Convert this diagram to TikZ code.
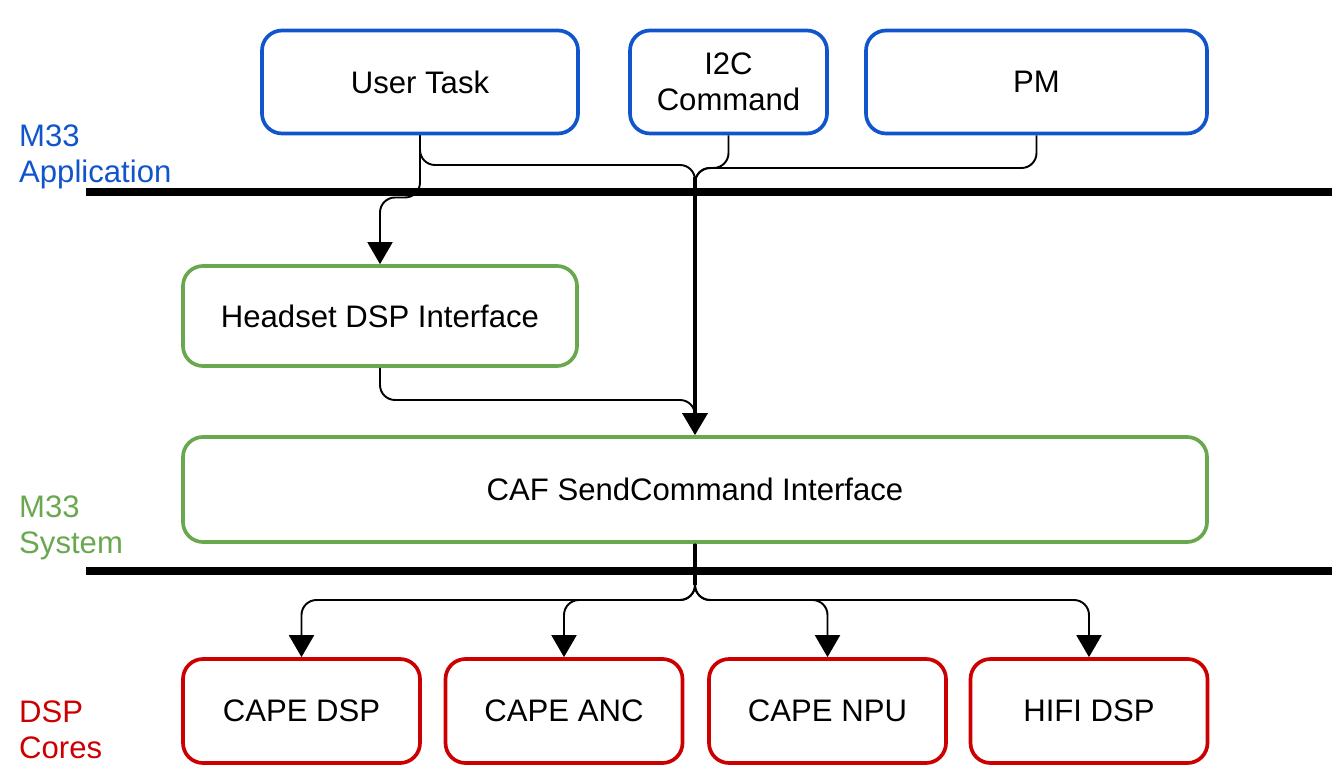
\documentclass[tikz,border=0pt]{standalone}
\usepackage{fontspec}
\setmainfont{Liberation Sans}
\usepackage{tikz}
\usetikzlibrary{arrows.meta}

\definecolor{appblue}{HTML}{1155CC}
\definecolor{sysgreen}{HTML}{6AA84F}
\definecolor{corered}{HTML}{CC0000}

\tikzset{
  box/.style={draw, line width=2.1pt, rounded corners=0.4cm, align=center,
    font=\fontsize{17.7}{20.5}\selectfont},
  appbox/.style={box, draw=appblue},
  sysbox/.style={box, draw=sysgreen},
  corebox/.style={box, draw=corered, minimum width=4.74cm, minimum height=2.08cm},
  link/.style={line width=1.1pt, rounded corners=0.3cm},
  mainlink/.style={line width=2pt},
  tip/.style={-{Triangle[width=0.5cm,length=0.44cm]}},
  bus/.style={line width=4pt},
  layer/.style={anchor=west, align=left, font=\fontsize{17.7}{20.5}\selectfont}
}

\begin{document}
\begin{tikzpicture}

    \useasboundingbox (0,0) rectangle (26.72,-15.56);

    % Application layer
    \node[appbox, minimum width=6.32cm, minimum height=2.06cm] (usertask) at (8.40,-1.64) {User Task};
    \node[appbox, minimum width=3.94cm, minimum height=2.06cm] (i2c) at (14.57,-1.64) {I2C\\Command};
    \node[appbox, minimum width=6.82cm, minimum height=2.06cm] (pm) at (20.73,-1.64) {PM};

    % System layer
    \node[sysbox, minimum width=7.88cm, minimum height=2.0cm] (headset) at (7.60,-6.32) {Headset DSP Interface};
    \node[sysbox, minimum width=20.48cm, minimum height=2.1cm] (caf) at (13.90,-9.79) {CAF SendCommand Interface};

    % DSP cores
    \node[corebox] (capedsp) at (6.03,-14.22) {CAPE DSP};
    \node[corebox] (capeanc) at (11.28,-14.22) {CAPE ANC};
    \node[corebox] (capenpu) at (16.55,-14.22) {CAPE NPU};
    \node[corebox] (hifidsp) at (21.78,-14.22) {HIFI DSP};

    % Layer labels
    \node[layer, text=appblue] (lapp) at (0.26,-3.14) {M33\\Application};
    \node[layer, text=sysgreen] (lsys) at (0.26,-10.56) {M33\\System};
    \node[layer, text=corered] (lcore) at (0.26,-14.6) {DSP\\Cores};

    % Layer separators
    \draw[bus] (1.72,-3.84) -- (26.64,-3.84);
    \draw[bus] (1.72,-11.42) -- (26.64,-11.42);

    % Connectors
    \coordinate (merge) at (13.90,-3.55);
    \coordinate (join) at (13.90,-8.45);
    \coordinate (split) at (13.90,-12.0);

    \draw[link] (usertask.south) -- (8.40,-3.30) -| (merge);
    \draw[link] (i2c.south) -- (14.57,-3.36) -| (merge);
    \draw[link] (pm.south) -- (20.73,-3.36) -| (merge);
    \draw[link, tip] (usertask.south) -- (8.40,-3.95) -| (headset.north);
    \draw[mainlink, tip] (merge) -- (caf.north);
    \draw[link] (headset.south) -- (7.60,-8.0) -| (join);

    \draw[mainlink] (caf.south) -- (13.90,-11.7);
    \foreach \core in {capedsp,capeanc,capenpu,hifidsp}
        \draw[link, tip] (caf.south) -- (split) -| (\core.north);

\end{tikzpicture}
\end{document}
